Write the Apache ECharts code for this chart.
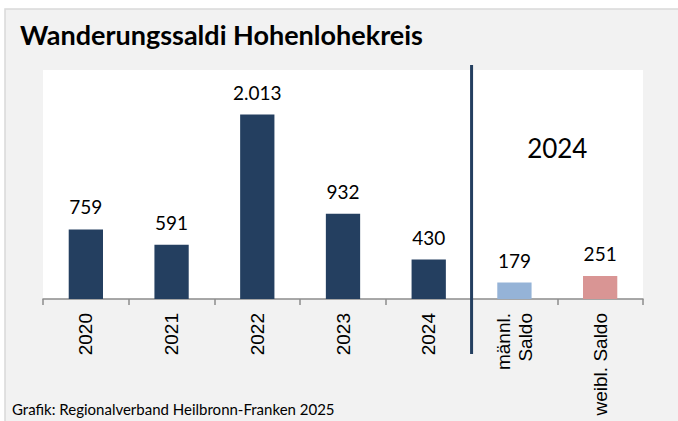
<!DOCTYPE html>
<html>
<head>
<meta charset="utf-8">
<script src="https://cdn.jsdelivr.net/npm/echarts@6/dist/echarts.min.js"></script>
<style>
  html, body { margin: 0; padding: 0; background: #fff; }
  #chart { width: 678px; height: 421px; }
</style>
</head>
<body>
<div id="chart"></div>
<script>
// Wanderungssaldi Hohenlohekreis
const categories = ['2020', '2021', '2022', '2023', '2024', 'männl.\nSaldo', 'weibl. Saldo'];
const saldoValues = [759, 591, 2013, 932, 430, 179, 251];
const barColors = ['#243f60', '#243f60', '#243f60', '#243f60', '#243f60', '#95b3d7', '#d99594'];

const chart = echarts.init(document.getElementById('chart'), null, { renderer: 'svg' });

// 2.013 instead of 2,013
const fmtDe = v => String(v).replace(/\B(?=(\d{3})+(?!\d))/g, '.');

chart.setOption({
    backgroundColor: '#fff',
    animation: false,
    grid: {
        left: 43, right: 35, top: 70, bottom: 122,
        show: true, backgroundColor: '#fff', borderWidth: 0
    },
    xAxis: {
        type: 'category',
        data: categories,
        axisLine: { lineStyle: { color: '#8c8c8c', width: 1.5 } },
        axisTick: { show: true, length: 6, lineStyle: { color: '#8c8c8c', width: 1.5 } },
        axisLabel: {
            rotate: 90,
            color: '#000',
            fontFamily: 'Liberation Sans',
            fontSize: 19,
            margin: 14,
            lineHeight: 22
        }
    },
    yAxis: {
        type: 'value',
        min: 0, max: 2500,
        show: false,
        splitLine: { show: false }
    },
    series: [{
        type: 'bar',
        barWidth: '40%',
        data: saldoValues.map((v, i) => ({ value: v, itemStyle: { color: barColors[i] } })),
        label: {
            show: true,
            position: 'top',
            distance: 13,
            color: '#000',
            fontFamily: 'Lato',
            fontSize: 19,
            formatter: p => fmtDe(p.value)
        }
    }]
});

// frame, separator and the "2024" heading for the right section
const xLeft = chart.convertToPixel({ xAxisIndex: 0 }, categories[4]);
const xRight = chart.convertToPixel({ xAxisIndex: 0 }, categories[5]);
const sepX = (xLeft + xRight) / 2;
const xM = chart.convertToPixel({ xAxisIndex: 0 }, categories[5]);
const xW = chart.convertToPixel({ xAxisIndex: 0 }, categories[6]);

chart.setOption({
    graphic: [
        {
            type: 'rect', z: -10, silent: true,
            shape: { x: 5, y: 9, width: 680, height: 420 },
            style: { fill: '#f2f2f2', stroke: '#d9d9d9', lineWidth: 1.5 }
        },
        {
            type: 'text', left: 20, top: 21,
            style: { text: 'Wanderungssaldi Hohenlohekreis', fill: '#000',
                     font: 'bold 27px Lato' }
        },
        {
            type: 'line', z: 10,
            shape: { x1: sepX, y1: 65, x2: sepX, y2: 354 },
            style: { stroke: '#243f60', lineWidth: 3 }
        },
        {
            type: 'text', x: (xM + xW) / 2, y: 148,
            style: { text: '2024', fill: '#000', font: '26px Lato',
                     textAlign: 'center', textVerticalAlign: 'middle' }
        },
        {
            type: 'text', left: 12, top: 401,
            style: { text: 'Grafik: Regionalverband Heilbronn-Franken 2025', fill: '#000',
                     font: '15px Lato' }
        }
    ]
});
</script>
</body>
</html>
